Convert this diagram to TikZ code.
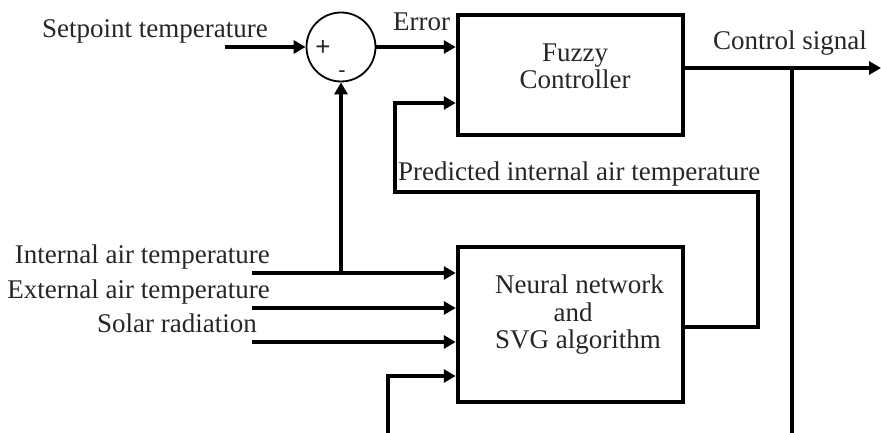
\documentclass[tikz,border=0pt]{standalone}
\usepackage{fontspec}
\setmainfont{Liberation Serif}
\setsansfont{Liberation Sans}
\usetikzlibrary{arrows.meta}
\begin{document}
\begin{tikzpicture}[x=1pt,y=-1pt,
  wire/.style={line width=4.5pt},
  arr/.style={wire,-{Triangle[length=12pt,width=13pt]}},
  blockbox/.style={draw,line width=4.5pt,rectangle,inner sep=0pt},
  lbl/.style={inner sep=0pt,font=\fontsize{27}{30}\selectfont},
  every node/.style={text=black!85}]
\useasboundingbox (0,0) rectangle (881,433);
% blocks
\node[blockbox,minimum width=225pt,minimum height=120pt] (fuzzy) at (570.5,75) {};
\node[blockbox,minimum width=225pt,minimum height=155pt] (nn) at (570.5,324.5) {};
\node[draw,circle,line width=1.8pt,minimum size=69pt,inner sep=0pt] (sum) at (341,47) {};
% block texts
\node[lbl,anchor=base] (tf1) at (575,62) {Fuzzy};
\node[lbl,anchor=base] (tf2) at (575,89) {Controller};
\node[lbl,anchor=base west] (tn1) at (495,293) {Neural network};
\node[lbl,anchor=base] (tn2) at (573,321) {and};
\node[lbl,anchor=base west] (tn3) at (495,348) {SVG algorithm};
\node[inner sep=0pt,font=\sffamily\fontsize{26}{28}\selectfont] (plus) at (323,48) {+};
\node[inner sep=0pt,font=\sffamily\fontsize{22}{24}\selectfont] (minus) at (342,74) {-};
% labels
\node[lbl,anchor=base east] (lsp) at (268,38) {Setpoint temperature};
\node[lbl,anchor=base west] (lerr) at (393,31) {Error};
\node[lbl,anchor=base west] (lcs) at (713,50) {Control signal};
\node[lbl,anchor=base west] (lpr) at (398,181) {Predicted internal air temperature};
\node[lbl,anchor=base east] (lint) at (270,263) {Internal air temperature};
\node[lbl,anchor=base east] (lext) at (270,298) {External air temperature};
\node[lbl,anchor=base east] (lsol) at (257,332) {Solar radiation};
% coordinates
\coordinate (sp0) at (225,47);
\coordinate (cs1) at (881,68);
\coordinate (csb) at (792,68);
\coordinate (csd) at (792,433);
\coordinate (in0) at (252,273);
\coordinate (br) at (341,273);
\coordinate (ex0) at (252,308);
\coordinate (so0) at (252,342);
\coordinate (fb0) at (388,433);
% connectors
\draw[arr] (sp0) -- (sum.west);
\draw[arr] (sum.east) -- (sum.east -| fuzzy.west);
\draw[arr] (fuzzy.east |- cs1) -- (cs1);
\draw[wire] (csb) -- (csd);
\draw[arr] (nn.east |- 0,327) -- (758,327) -- (758,192) -- (395,192) -- (395,103) -- (fuzzy.west |- 0,103);
\draw[arr] (in0) -- (in0 -| nn.west);
\draw[arr] (br) -- (sum.south);
\draw[arr] (ex0) -- (ex0 -| nn.west);
\draw[arr] (so0) -- (so0 -| nn.west);
\draw[arr] (fb0) -- (388,376) -- (nn.west |- 0,376);
\end{tikzpicture}
\end{document}
